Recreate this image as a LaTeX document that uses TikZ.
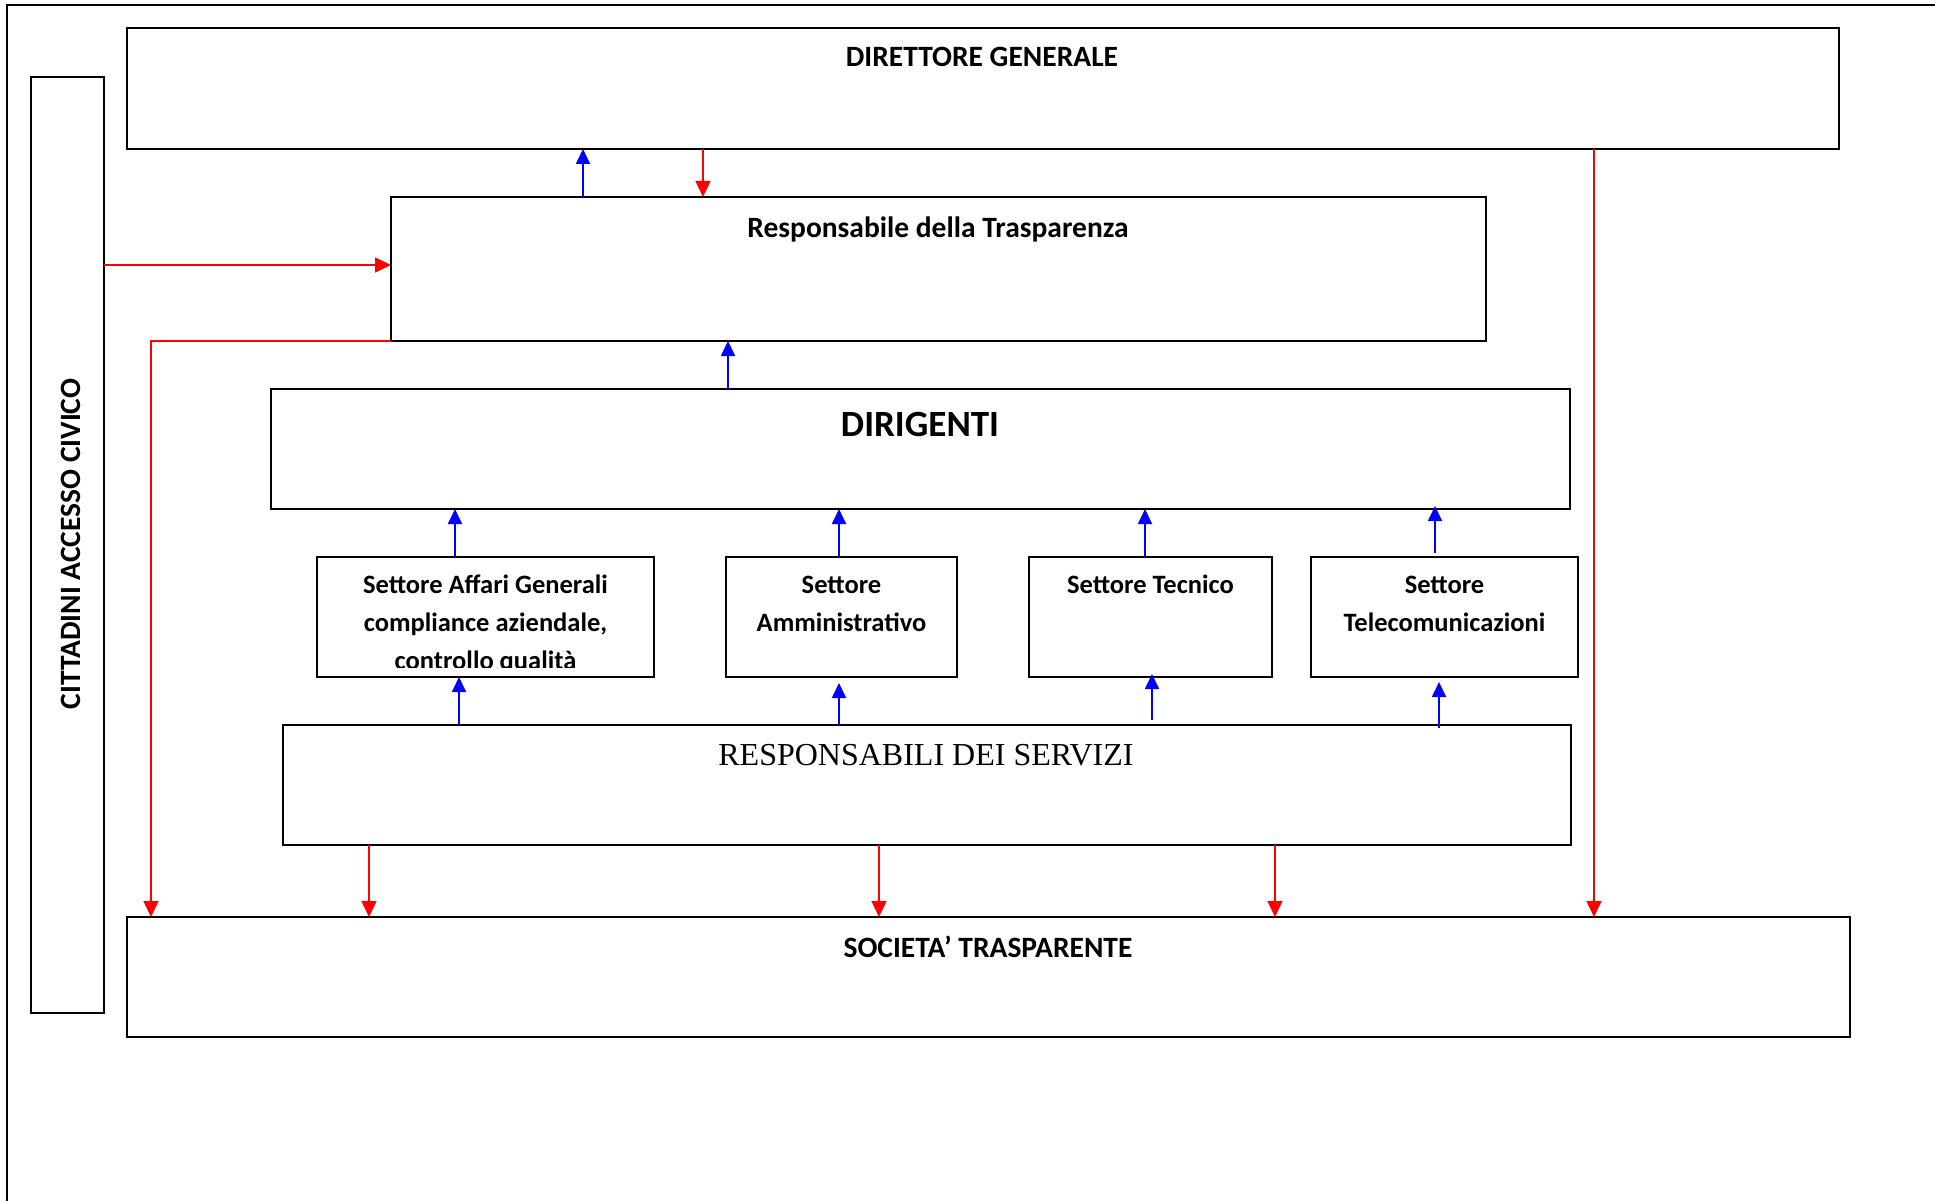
\documentclass[tikz,border=0pt]{standalone}
\usepackage{fontspec}
\setmainfont{Liberation Serif}
\newfontfamily\calfont{Carlito}
\usetikzlibrary{arrows.meta}
\begin{document}
\begin{tikzpicture}[x=1pt,y=-1pt,
  box/.style={draw=black,line width=2pt,inner sep=0pt,outer sep=0pt,fill=white},
  lbl/.style={inner sep=0pt,anchor=base,font=\calfont\bfseries\fontsize{26.5}{30}\selectfont},
  head/.style={lbl,font=\calfont\bfseries\fontsize{29.5}{34}\selectfont},
  barrow/.style={draw=blue,line width=1.8pt,-{Triangle[length=15pt,width=14pt]},blue},
  rarrow/.style={draw=red,line width=1.5pt,-{Triangle[length=16pt,width=15pt]},red}]
\useasboundingbox (0,0) rectangle (1935,1201);
% outer frame (top and left edges)
\draw[line width=2pt] (1935,5) -- (7,5) -- (7,1201);
% boxes
\node[box,minimum width=1712pt,minimum height=121pt] (dg) at (983,88.5) {};
\node[box,minimum width=73pt,minimum height=936pt] (cit) at (67.5,545) {};
\node[box,minimum width=1095pt,minimum height=144pt] (rt) at (938.5,269) {};
\node[box,minimum width=1299pt,minimum height=120pt] (dir) at (920.5,449) {};
\node[box,minimum width=337pt,minimum height=120pt] (aff) at (485.5,617) {};
\node[box,minimum width=231pt,minimum height=120pt] (amm) at (841.5,617) {};
\node[box,minimum width=243pt,minimum height=120pt] (tec) at (1150.5,617) {};
\node[box,minimum width=267pt,minimum height=120pt] (tel) at (1444.5,617) {};
\node[box,minimum width=1288pt,minimum height=120pt] (rs) at (927,785) {};
\node[box,minimum width=1723pt,minimum height=120pt] (st) at (988.5,977) {};
% texts
\node[head] (tdg) at (982,67) {DIRETTORE GENERALE};
\node[head] (trt) at (938,237) {Responsabile della Trasparenza};
\node[lbl,font=\calfont\bfseries\fontsize{37}{42}\selectfont] (tdir) at (920,436) {DIRIGENTI};
\node[lbl] (taff1) at (485.5,593) {Settore Affari Generali};
\node[lbl] (taff2) at (485.5,631) {compliance aziendale,};
\begin{scope}
\clip (318,560) rectangle (653,667);
\node[lbl] (taff3) at (485.5,669) {controllo qualità};
\end{scope}
\node[lbl] (tamm1) at (841.5,593) {Settore};
\node[lbl] (tamm2) at (841.5,631) {Amministrativo};
\node[lbl] (ttec) at (1150.5,593) {Settore Tecnico};
\node[lbl] (ttel1) at (1444.5,593) {Settore};
\node[lbl] (ttel2) at (1444.5,631) {Telecomunicazioni};
\node[inner sep=0pt,anchor=base,font=\fontsize{32}{36}\selectfont] (trs) at (926,765) {RESPONSABILI DEI SERVIZI};
\node[head] (tst) at (988,957) {SOCIETA’ TRASPARENTE};
\node[head,rotate=90] (tcit) at (80,544) {CITTADINI ACCESSO CIVICO};
% blue arrows
\draw[barrow] (583,0 |- rt.north) -- (583,0 |- dg.south);
\draw[barrow] (728,0 |- dir.north) -- (728,0 |- rt.south);
\draw[barrow] (455,0 |- aff.north) -- (455,0 |- dir.south);
\draw[barrow] (839,0 |- amm.north) -- (839,0 |- dir.south);
\draw[barrow] (1145,0 |- tec.north) -- (1145,0 |- dir.south);
\draw[barrow,shorten <=4pt,shorten >=-3pt] (1435,0 |- tel.north) -- (1435,0 |- dir.south);
\draw[barrow] (459,0 |- rs.north) -- (459,0 |- aff.south);
\draw[barrow,shorten >=6pt] (839,0 |- rs.north) -- (839,0 |- amm.south);
\draw[barrow,shorten <=5pt,shorten >=-3pt] (1152,0 |- rs.north) -- (1152,0 |- tec.south);
\draw[barrow,shorten <=-3pt,shorten >=5pt] (1439,0 |- rs.north) -- (1439,0 |- tel.south);
% red arrows
\draw[rarrow] (703,0 |- dg.south) -- (703,0 |- rt.north);
\draw[rarrow] (cit.east |- 0,265) -- (rt.west |- 0,265);
\draw[rarrow] (rt.south west) -| (151,0 |- st.north);
\draw[rarrow] (1594,0 |- dg.south) -- (1594,0 |- st.north);
\draw[rarrow] (369,0 |- rs.south) -- (369,0 |- st.north);
\draw[rarrow] (879,0 |- rs.south) -- (879,0 |- st.north);
\draw[rarrow] (1275,0 |- rs.south) -- (1275,0 |- st.north);
\end{tikzpicture}
\end{document}
